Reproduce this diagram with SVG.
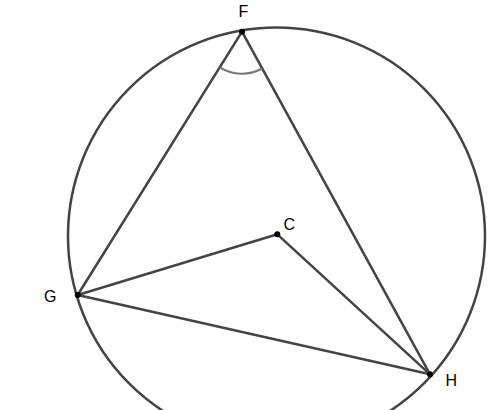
<svg xmlns="http://www.w3.org/2000/svg" width="500" height="410" viewBox="0 0 500 410">
<style>
.ln{stroke:#444;stroke-width:2.5;fill:none;stroke-linecap:round}
.arc{stroke:#777;stroke-width:2;fill:none}
.pt{fill:#000}
.lb{font-family:"Liberation Sans",Arial,sans-serif;font-size:16px;fill:#000}
</style>
<rect width="500" height="410" fill="#fff"/>
<circle id="circle" class="ln" cx="276.5" cy="236" r="208.5"/>
<g id="connectors">
<line class="ln" x1="242" y1="31.7" x2="77.7" y2="295"/>
<line class="ln" x1="242" y1="31.7" x2="430" y2="374.3"/>
<line class="ln" x1="77.7" y1="295" x2="430" y2="374.3"/>
<line class="ln" x1="77.7" y1="295" x2="277.3" y2="234.3"/>
<line class="ln" x1="277.3" y1="234.3" x2="430" y2="374.3"/>
</g>
<path id="angleF" class="arc" d="M219.8,67.3 A42,42 0 0 0 262.2,68.5"/>
<g id="F"><circle class="pt" cx="242" cy="31.7" r="3"/><text class="lb" x="238.5" y="17">F</text></g>
<g id="G"><circle class="pt" cx="77.7" cy="295" r="3"/><text class="lb" x="44" y="302">G</text></g>
<g id="H"><circle class="pt" cx="430" cy="374.3" r="3"/><text class="lb" x="445.5" y="386">H</text></g>
<g id="C"><circle class="pt" cx="277.3" cy="234.3" r="3"/><text class="lb" x="283.5" y="229.5">C</text></g>
</svg>
